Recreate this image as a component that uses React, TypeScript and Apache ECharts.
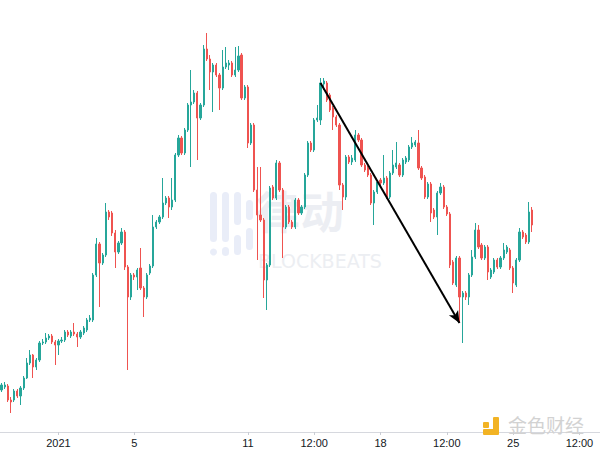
import React, { useEffect, useRef } from "react";
import * as echarts from "echarts";

// 4-hour candles starting 2020-12-29 00:00 (UTC)
const START_MS = Date.UTC(2020, 11, 29, 0, 0);
const STEP_MS = 4 * 3600 * 1000;
const CATEGORY_COUNT = 190;

const pad = (n: number) => (n < 10 ? "0" + n : "" + n);
const fmt = (t: number) => {
  const d = new Date(t);
  return `${d.getUTCFullYear()}-${pad(d.getUTCMonth() + 1)}-${pad(d.getUTCDate())} ${pad(d.getUTCHours())}:00`;
};
const categories: string[] = [];
for (let i = 0; i < CATEGORY_COUNT; i++) categories.push(fmt(START_MS + i * STEP_MS));

const tickTimes = [
  "2021-01-01 00:00",
  "2021-01-05 00:00",
  "2021-01-11 00:00",
  "2021-01-14 12:00",
  "2021-01-18 00:00",
  "2021-01-21 12:00",
  "2021-01-25 00:00",
  "2021-01-28 12:00",
];
const tickTexts = ["2021", "5", "11", "12:00", "18", "12:00", "25", "12:00"];

const opens = [
  28400, 28520, 28560, 28000, 28000, 28360, 28160, 28480, 28880, 29480,
  29800, 29320, 29600, 30280, 30320, 30480, 30560, 30320, 30200, 30360,
  30400, 30720, 30560, 30720, 30640, 30520, 30680, 30800, 31200, 31200,
  33000, 34240, 33480, 33800, 35520, 35480, 34680, 33920, 34280, 34720,
  33320, 32120, 33000, 32920, 33280, 32480, 32120, 33080, 33360, 34920,
  35120, 35320, 35880, 36080, 35720, 36000, 37800, 38480, 37880, 38800,
  39800, 39920, 40280, 39280, 39800, 42040, 41640, 41120, 41400, 41000,
  40480, 41320, 41400, 41480, 41000, 41200, 41800, 40080, 40520, 38280,
  39000, 36400, 35400, 35200, 32800, 33400, 36520, 36080, 37480, 36400,
  34920, 35720, 35120, 34920, 36000, 35480, 35720, 37000, 38280, 38000,
  39200, 39200, 40640, 40680, 40200, 39680, 39320, 39000, 36600, 36120,
  37720, 37520, 37600, 38600, 38400, 37400, 37280, 37000, 35880, 36320,
  36800, 36680, 36880, 36120, 37080, 37320, 37400, 37000, 37520, 37600,
  38120, 38200, 38280, 37280, 36920, 36120, 36640, 35600, 35320, 36280,
  36520, 35720, 35440, 33520, 32600, 33680, 32120, 32280, 32120, 33000,
  33720, 34800, 34200, 33680, 34120, 32920, 33120, 33600, 33320, 33680,
  33920, 34000, 33280, 32600, 33600, 34720, 34600, 34320, 35600,
];
const closes = [
  28600, 28600, 28000, 27920, 28360, 28160, 28480, 28880, 29480, 29800,
  29320, 29600, 30280, 30320, 30480, 30560, 30320, 30200, 30360, 30400,
  30720, 30600, 30720, 30640, 30520, 30720, 30880, 31200, 31280, 33000,
  34240, 33480, 33800, 35520, 35320, 34680, 33920, 34280, 34720, 33320,
  32120, 33000, 32920, 33200, 32480, 32120, 33000, 33360, 34920, 35120,
  35320, 35880, 36080, 35720, 36000, 37800, 38480, 37880, 38800, 39800,
  39920, 40280, 39280, 39800, 42040, 41640, 41120, 41400, 41000, 40480,
  41320, 41480, 41480, 41000, 41200, 41760, 40080, 40520, 38280, 39000,
  36400, 35400, 35200, 32800, 33400, 36480, 36080, 37480, 36400, 34920,
  35720, 35120, 34920, 36000, 35480, 35720, 37000, 38280, 38000, 39200,
  39280, 40680, 40760, 40000, 39600, 39320, 39000, 36600, 36120, 37720,
  37520, 37680, 38600, 38400, 37400, 37200, 37000, 35880, 36320, 36720,
  36680, 36880, 36120, 37080, 37400, 37480, 37000, 37600, 37680, 38120,
  38280, 38320, 37280, 36880, 36120, 36640, 35480, 35320, 36280, 36520,
  35720, 35440, 33400, 32680, 33680, 32120, 32280, 32120, 33000, 33720,
  34800, 34120, 33680, 34120, 33120, 33200, 33600, 33320, 33680, 34000,
  34120, 33280, 32680, 33600, 34720, 34520, 34320, 35520, 35000,
];
const lows = [
  28320, 28440, 27920, 27480, 27920, 28080, 27800, 28400, 28840, 29400,
  28880, 29200, 29520, 30200, 30240, 30400, 30240, 29400, 29800, 30280,
  30320, 30520, 30480, 30560, 30120, 30440, 30600, 30720, 31120, 31120,
  32920, 31720, 33400, 33720, 35200, 34560, 33280, 33840, 34200, 33200,
  29200, 32000, 32800, 32400, 32400, 31320, 32040, 33000, 33280, 34840,
  35040, 35240, 35800, 35280, 35600, 35920, 37720, 37800, 37800, 38720,
  37320, 39840, 37600, 39200, 39720, 41560, 40400, 39520, 40920, 39600,
  40400, 41240, 41200, 40920, 40920, 41120, 40000, 40000, 38080, 38200,
  36320, 33600, 35120, 32080, 31600, 33320, 36000, 36000, 36320, 33680,
  34840, 35040, 34840, 34840, 35400, 35400, 35640, 36920, 37920, 37920,
  39120, 39000, 40400, 39920, 39520, 38800, 38920, 36400, 35600, 36000,
  37440, 37400, 37520, 38320, 37320, 37120, 36920, 35800, 35000, 36240,
  36600, 36600, 36040, 36040, 37000, 37240, 36920, 36920, 37440, 37520,
  38040, 38120, 37200, 36800, 36040, 36040, 35120, 35240, 34600, 36200,
  35640, 35360, 33280, 32600, 32520, 31120, 30280, 32000, 31800, 32920,
  33640, 34040, 33600, 33600, 32800, 32840, 33040, 33240, 33240, 33600,
  33840, 33200, 32280, 32520, 33520, 34440, 34240, 34240, 34720,
];
const highs = [
  28680, 28720, 28640, 28120, 28440, 28440, 28560, 28960, 29680, 30000,
  29840, 29680, 30360, 30440, 30680, 30640, 30640, 30400, 30440, 30520,
  30800, 30800, 30800, 31080, 30720, 30800, 30960, 31280, 31400, 33080,
  34480, 34320, 33880, 35880, 35600, 35560, 34800, 34360, 34880, 34800,
  33400, 33080, 33080, 33280, 34080, 32560, 33080, 33440, 35400, 35200,
  35400, 36880, 36160, 36160, 36880, 37880, 38600, 38560, 38880, 39880,
  41200, 40400, 40360, 39880, 42200, 42680, 41800, 41480, 41480, 41080,
  42000, 42120, 41600, 41560, 42120, 42160, 41880, 40600, 40600, 39080,
  39080, 37320, 37320, 35280, 33480, 36560, 36600, 37600, 37560, 36480,
  35800, 35800, 35200, 36080, 36080, 35800, 37080, 38360, 38360, 39280,
  39800, 40880, 40880, 40760, 40280, 39760, 39400, 39080, 36680, 37800,
  37800, 37800, 38800, 38680, 38480, 37480, 37360, 37080, 36400, 36800,
  36880, 37800, 36960, 37160, 38000, 38320, 37480, 37680, 37760, 38200,
  38520, 38400, 38800, 37360, 37000, 36720, 36720, 35680, 36360, 36680,
  36600, 35800, 35520, 33600, 33760, 33760, 32360, 32360, 33080, 34000,
  35080, 35000, 34280, 34200, 34200, 33280, 33680, 33680, 33760, 34280,
  34200, 34080, 33360, 33680, 34880, 34800, 34680, 35920, 35720,
];

// trend arrow drawn on the chart (from the mid-January high to the Jan 22 low)
const arrowFrom = { time: "2021-01-14 20:00", price: 40680 };
const arrowTo = { time: "2021-01-22 04:00", price: 31080 };

const UP = "#26a69a";
const DOWN = "#ef5350";

export default function App() {
  const ref = useRef<HTMLDivElement>(null);
  useEffect(() => {
    if (!ref.current) return;
    const chart = echarts.init(ref.current, undefined, { renderer: "svg" });
    const data = opens.map((o, i) => [o, closes[i], lows[i], highs[i]]);
    const wm = "#e9edf8";
    chart.setOption({
      animation: false,
      backgroundColor: "#ffffff",
      grid: { left: 0, right: 0, top: 0, bottom: 17, containLabel: false },
      xAxis: {
        type: "category",
        data: categories,
        boundaryGap: true,
        axisLine: { show: true, lineStyle: { color: "#d6d8de", width: 1 } },
        axisTick: {
          show: true,
          alignWithLabel: true,
          length: 3,
          interval: (_i: number, v: string) => tickTimes.indexOf(v) >= 0,
          lineStyle: { color: "#c9ccd3" },
        },
        axisLabel: {
          show: true,
          interval: (_i: number, v: string) => tickTimes.indexOf(v) >= 0,
          formatter: (v: string) => {
            const k = tickTimes.indexOf(v);
            return k >= 0 ? tickTexts[k] : "";
          },
          color: "#131722",
          fontSize: 11,
          fontFamily: "Liberation Sans, Arial, sans-serif",
          margin: 5,
        },
        splitLine: { show: false },
      },
      yAxis: {
        type: "value",
        min: 26720,
        max: 44000,
        show: false,
        splitLine: { show: false },
      },
      graphic: [
        // BlockBeats watermark
        { type: "rect", z: 0, shape: { x: 210, y: 192, width: 7, height: 50, r: 3.5 }, style: { fill: wm } },
        { type: "rect", z: 0, shape: { x: 222, y: 192, width: 7, height: 50, r: 3.5 }, style: { fill: wm } },
        { type: "rect", z: 0, shape: { x: 234, y: 192, width: 7, height: 33, r: 3.5 }, style: { fill: wm } },
        { type: "rect", z: 0, shape: { x: 246, y: 200, width: 7, height: 20, r: 3.5 }, style: { fill: wm } },
        { type: "rect", z: 0, shape: { x: 246, y: 228, width: 7, height: 22, r: 3.5 }, style: { fill: wm } },
        { type: "rect", z: 0, shape: { x: 234, y: 235, width: 7, height: 20, r: 3.5 }, style: { fill: wm } },
        { type: "rect", z: 0, shape: { x: 222, y: 247, width: 7, height: 9, r: 3.5 }, style: { fill: wm } },
        { type: "circle", z: 0, shape: { cx: 213.5, cy: 252, r: 3.5 }, style: { fill: wm } },
        {
          type: "text",
          z: 0,
          x: 256,
          y: 188,
          style: { text: "律动", fill: "#eceef3", font: "bold 44px 'Noto Sans CJK SC', sans-serif" },
        },
        {
          type: "text",
          z: 0,
          x: 258,
          y: 251,
          style: { text: "BLOCKBEATS", fill: "#eceef2", font: "19px 'DejaVu Sans', sans-serif" },
        },
        // 金色财经 logo (bottom right)
        { type: "rect", z: 50, shape: { x: 483, y: 422, width: 6, height: 6, r: 1 }, style: { fill: "#f2b324" } },
        { type: "rect", z: 50, shape: { x: 493, y: 417, width: 6, height: 18, r: 1 }, style: { fill: "#f2b324" } },
        { type: "rect", z: 50, shape: { x: 483, y: 429, width: 14, height: 6, r: 1 }, style: { fill: "#f2b324" } },
        {
          type: "text",
          z: 50,
          x: 508,
          y: 415,
          style: { text: "金色财经", fill: "#d2d2d2", font: "19px 'Noto Sans CJK SC', sans-serif" },
        },
      ],
      series: [
        {
          type: "candlestick",
          data,
          barWidth: 1.7,
          itemStyle: {
            color: UP,
            color0: DOWN,
            borderColor: UP,
            borderColor0: DOWN,
            borderWidth: 1,
          },
          markLine: {
            silent: true,
            symbol: ["none", "arrow"],
            symbolSize: [8, 12],
            label: { show: false },
            lineStyle: { color: "#000000", width: 2, type: "solid", opacity: 1 },
            itemStyle: { color: "#000000" },
            emphasis: { disabled: true },
            data: [
              [
                { coord: [arrowFrom.time, arrowFrom.price] },
                { coord: [arrowTo.time, arrowTo.price] },
              ],
            ],
          },
        },
      ],
    });
    return () => chart.dispose();
  }, []);
  return (
    <div
      ref={ref}
      style={{ position: "fixed", left: 0, top: 0, width: 600, height: 449, background: "#fff" }}
    />
  );
}
